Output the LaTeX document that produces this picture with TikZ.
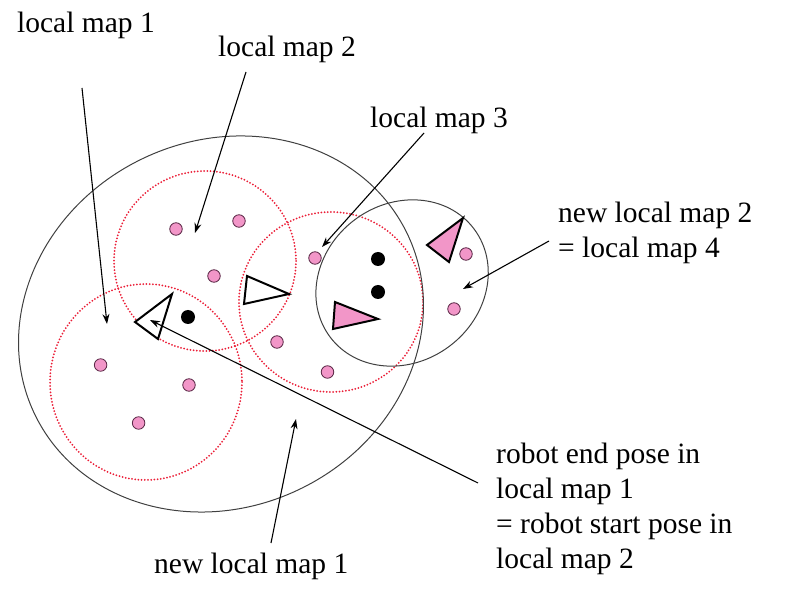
\documentclass[tikz,border=0pt]{standalone}
\usepackage{fontspec}
\setmainfont{LiberationSerif}[Extension=.ttf, UprightFont=*-Regular]
\newfontfamily\labelfont{LiberationSerif}[Extension=.ttf, UprightFont=*-Regular]
\usetikzlibrary{arrows.meta}
\definecolor{dotred}{RGB}{235,30,55}
\definecolor{lmpink}{RGB}{242,150,200}
\definecolor{lmedge}{RGB}{90,40,70}
\begin{document}
\begin{tikzpicture}[x=1pt,y=-1pt,
  mapline/.style={draw=black!75, line width=1pt},
  oldmap/.style={draw=dotred, line width=2pt, line cap=round, dash pattern=on 0pt off 3.2pt},
  landmark/.style={circle, fill=lmpink, draw=lmedge, line width=0.8pt, minimum size=12.5pt, inner sep=0pt},
  feature/.style={circle, fill=black, minimum size=14pt, inner sep=0pt},
  pose/.style={draw=black, line width=2pt, line join=miter},
  pointer/.style={draw=black, line width=1.1pt, -{Stealth[length=10pt,width=7pt]}},
  txt/.style={font=\labelfont\fontsize{29.5}{35}\selectfont, inner sep=0pt, anchor=base west}]
\useasboundingbox (0,0) rectangle (806,609);

% local maps (red dotted circles)
\coordinate (c1) at (146,382);
\coordinate (c2) at (205,261);
\coordinate (c3) at (331,302);
\draw[oldmap] (c1) ellipse [x radius=96, y radius=98];
\draw[oldmap] (c2) ellipse [x radius=91, y radius=90];
\draw[oldmap] (c3) ellipse [x radius=92, y radius=90];

% new local maps (solid ellipses)
\coordinate (bigc) at (221,324);
\coordinate (smc) at (402,283);
\draw[mapline, rotate around={26.5:(bigc)}] (bigc) ellipse [x radius=207, y radius=183];
\draw[mapline, rotate around={37:(smc)}] (smc) ellipse [x radius=90, y radius=79];

% landmarks
\node[landmark] (p1) at (176,229) {};
\node[landmark] (p2) at (239,221) {};
\node[landmark] (p3) at (214,276) {};
\node[landmark] (p4) at (315,258) {};
\node[landmark] (p5) at (277,342) {};
\node[landmark] (p6) at (327.5,372) {};
\node[landmark] (p7) at (466,254) {};
\node[landmark] (p8) at (454,309) {};
\node[landmark] (p9) at (100.6,365) {};
\node[landmark] (p10) at (189,385) {};
\node[landmark] (p11) at (138.6,423) {};

% black features
\node[feature] (f1) at (188,317) {};
\node[feature] (f2) at (378,259) {};
\node[feature] (f3) at (378,292) {};

% robot poses
\draw[pose, fill=white] (135,322) -- (172,294) -- (158,339) -- cycle;
\draw[pose, fill=white] (247,276) -- (289,294) -- (244,304) -- cycle;
\draw[pose, fill=lmpink] (335,302) -- (378,319) -- (333,329) -- cycle;
\draw[pose, fill=lmpink] (463,218) -- (427,245) -- (449,262) -- cycle;

% labels
\node[txt] (t1) at (17,33) {local map 1};
\node[txt] (t2) at (218,57) {local map 2};
\node[txt] (t3) at (370,128) {local map 3};
\node[txt] (t4a) at (558,223) {new local map 2};
\node[txt] (t4b) at (558,258) {= local map 4};
\node[txt] (t5) at (154,573) {new local map 1};
\node[txt] (r1) at (496,463) {robot end pose in};
\node[txt] (r2) at (496,498) {local map 1};
\node[txt] (r3) at (496,533) {= robot start pose in};
\node[txt] (r4) at (496,568) {local map 2};

% pointers
\coordinate (a1s) at (82,88);   \coordinate (a1e) at (107,324);
\coordinate (a2s) at (246,72);  \coordinate (a2e) at (195,233);
\coordinate (a3s) at (424,133); \coordinate (a3e) at (322,247);
\coordinate (a4s) at (549,241); \coordinate (a4e) at (463,289);
\coordinate (a5s) at (271,543); \coordinate (a5e) at (296,419);
\coordinate (a6s) at (478,483); \coordinate (a6e) at (150,320);
\draw[pointer] (a1s) -- (a1e);
\draw[pointer] (a2s) -- (a2e);
\draw[pointer] (a3s) -- (a3e);
\draw[pointer] (a4s) -- (a4e);
\draw[pointer] (a5s) -- (a5e);
\draw[pointer] (a6s) -- (a6e);
\end{tikzpicture}
\end{document}
